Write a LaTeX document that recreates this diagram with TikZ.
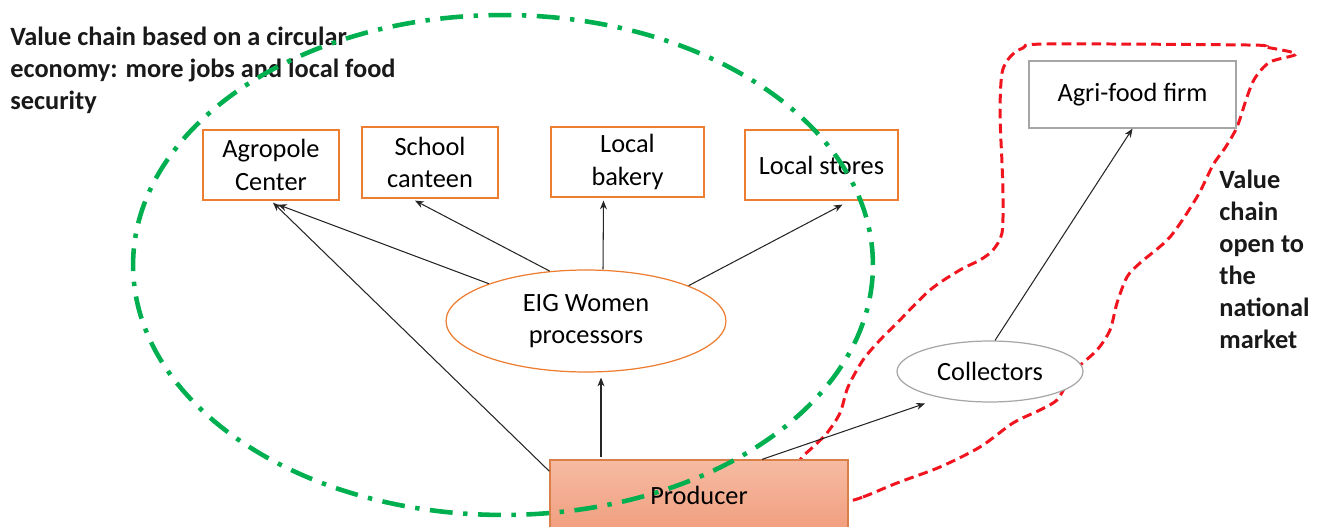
\documentclass[tikz,border=0pt]{standalone}
\usepackage{fontspec}
\setmainfont{Carlito}
\usetikzlibrary{arrows.meta,calc,shapes.geometric}
\definecolor{boxorange}{HTML}{ED7D31}
\definecolor{boxgray}{HTML}{A6A6A6}
\definecolor{prodtop}{HTML}{F6BBA3}
\definecolor{prodbot}{HTML}{F19E7E}
\definecolor{prodedge}{HTML}{D9804A}
\definecolor{circgreen}{HTML}{00B050}
\definecolor{natred}{HTML}{F0141E}
\begin{document}
\begin{tikzpicture}[x=0.02cm,y=-0.02cm,
  lbl/.style={font=\fontsize{15}{18.5}\selectfont, align=center, text=black, inner sep=0pt},
  obox/.style={lbl, draw=boxorange, line width=0.7pt, fill=white},
  gbox/.style={lbl, draw=boxgray, line width=0.7pt, fill=white},
  oell/.style={lbl, ellipse, draw=boxorange, line width=0.7pt, fill=white},
  gell/.style={lbl, ellipse, draw=boxgray, line width=0.7pt, fill=white},
  heading/.style={font=\bfseries\fontsize{15}{18.2}\selectfont, align=left, inner sep=0pt, text=black!90},
  arr/.style={-{Stealth[length=5pt,width=4pt]}, line width=0.6pt, draw=black!85},
  circular/.style={draw=circgreen, line width=2.6pt, dash pattern=on 13pt off 6pt on 2.5pt off 6pt},
  national/.style={draw=natred, line width=1.7pt, dash pattern=on 5.5pt off 3pt}]
\useasboundingbox (0,0) rectangle (1322,527);

% headings
\node[heading, anchor=north west] (hcirc) at (10,27)
  {Value chain based on a circular\\economy: more jobs and local food\\security};
\node[heading, anchor=north west] (hnat) at (1219,170)
  {Value\\chain\\open to\\the\\national\\market};

% boundary of the value chain open to the national market
\draw[national] plot[smooth cycle, tension=0.5] coordinates {
  (847,501) (863,497) (897,483) (940,467) (980,447) (1013,423) (1040,410)
  (1057,400) (1067,383) (1075,370) (1097,350) (1110,330) (1117,303)
  (1127,277) (1140,263) (1170,237) (1197,197) (1213,165) (1225,148)
  (1237,127) (1247,97) (1255,78) (1270,62) (1296,54) (1265,47) (1247,45)
  (1047,44) (1023,48) (1010,57) (1002,73) (1000,113) (1002,163) (1003,197)
  (1002,233) (993,250) (980,260) (960,270) (930,290) (897,323) (880,340)
  (863,360) (848,387) (840,413) (827,433) (813,447) (800,460) (795,480)
  (820,500)};

% outlets
\node[obox, minimum width=2.72cm, minimum height=1.4cm] (agro) at (271,165) {Agropole\\Center};
\node[obox, minimum width=2.72cm, minimum height=1.42cm] (school) at (430,162.5) {School\\canteen};
\node[obox, minimum width=3.06cm, minimum height=1.4cm] (bak) at (627.5,162) {Local\\bakery};
\node[obox, minimum width=3.06cm, minimum height=1.4cm] (stores) at (821.5,165) {Local stores};
\node[gbox, minimum width=4.14cm, minimum height=1.34cm] (agri) at (1132.5,94.5) {Agri-food firm};

% processors and collectors
\node[oell, minimum width=5.6cm, minimum height=2.04cm] (eig) at (586,321) {EIG Women\\processors};
\node[gell, minimum width=3.72cm, minimum height=1.22cm] (coll) at (990,371.5) {Collectors};

% producer
\node[lbl, draw=prodedge, line width=0.7pt, top color=prodtop, bottom color=prodbot,
  minimum width=5.96cm, minimum height=1.4cm] (prod) at (699,495) {Producer};

% flows
\draw[arr] (prod.171) -- ($(agro.south)+(2,2)$);
\draw[arr] (eig.159) -- ($(agro.south)+(7,4)$);
\draw[arr] (eig.126) -- ($(school.south)+(-15,2)$);
\draw[arr] ($(eig.north)+(17,0)$) -- ($(bak.south)+(-24,3)$);
\draw[arr] (eig.19) -- ($(stores.south)+(21,4)$);
\draw[arr] ($(prod.north)+(-98,-2)$) -- ($(eig.south)+(15,5)$);
\draw[arr] ($(prod.north)+(63,0)$) -- ($(coll.center)+(-65,32)$);
\draw[arr] ($(coll.north)+(5,0)$) -- (agri.south);

% boundary of the circular-economy value chain
\draw[circular] (503,265) ellipse [x radius=7.4cm, y radius=5cm];
\end{tikzpicture}
\end{document}
